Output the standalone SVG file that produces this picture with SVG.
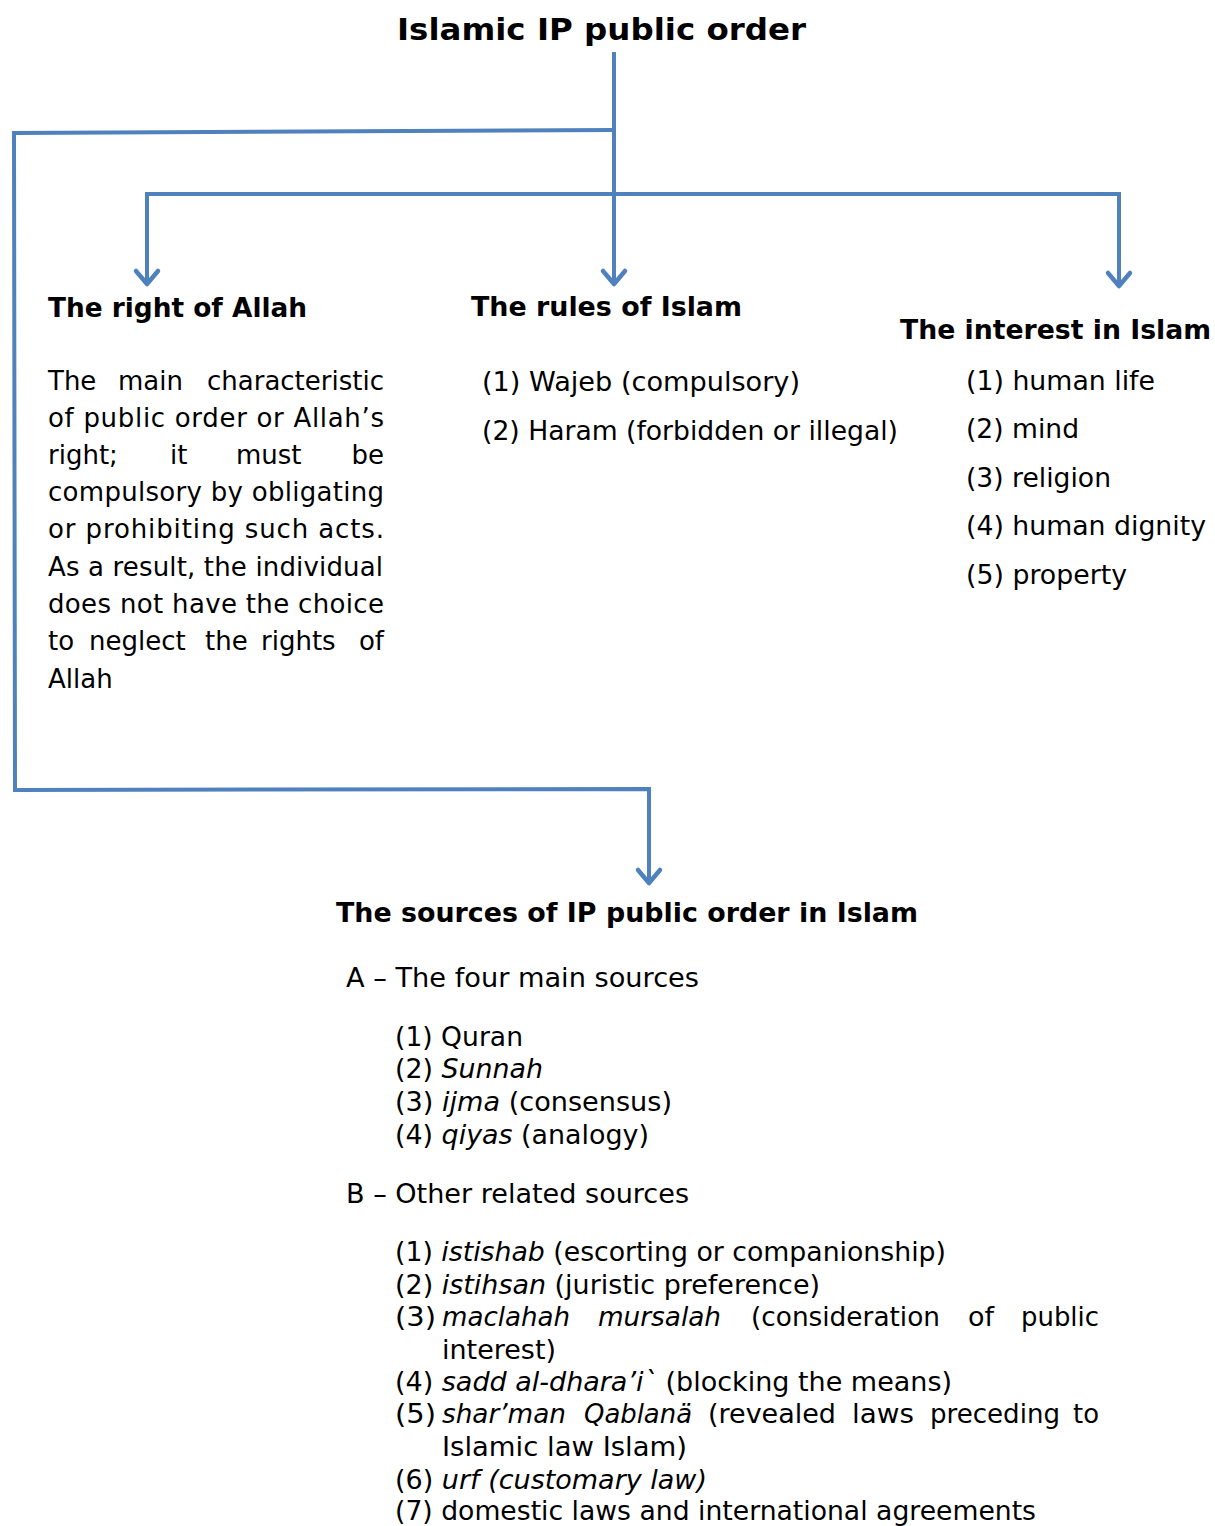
<svg xmlns="http://www.w3.org/2000/svg" width="1215" height="1526" viewBox="0 0 1215 1526">
<style>
text{font-family:"DejaVu Sans","Verdana",sans-serif;font-size:26px;fill:#000}
.b{font-weight:bold}
.i{font-style:italic}
.c{fill:none;stroke:#4F81BD;stroke-width:4;stroke-linejoin:miter}
</style>
<defs>
<marker id="ah" markerUnits="userSpaceOnUse" viewBox="-16 -16 20 32" markerWidth="20" markerHeight="32" refX="0" refY="0" orient="auto" overflow="visible">
<path d="M-13,-11 L0,0 L-13,11" fill="none" stroke="#4F81BD" stroke-width="4.5" stroke-linecap="round" stroke-linejoin="round"/>
</marker>
</defs>
<rect width="1215" height="1526" fill="#fff"/>
<g id="connectors">
<path class="c" d="M614,52 L614,284" marker-end="url(#ah)"/>
<path class="c" d="M614,130 L14,133 L15,790 L649,789 L649,883" marker-end="url(#ah)"/>
<path class="c" d="M614,194 L147,194 L147,284" marker-end="url(#ah)"/>
<path class="c" d="M614,194 L1119,194 L1119,286" marker-end="url(#ah)"/>
</g>
<g id="title"><text class="b" x="397" y="40" textLength="409" lengthAdjust="spacingAndGlyphs" style="font-size:31px">Islamic IP public order</text></g>
<g id="right-of-allah">
<text class="b" x="48" y="317" textLength="259" lengthAdjust="spacingAndGlyphs">The right of Allah</text>
<text x="48" y="390">The</text><text x="118" y="390">main</text><text x="384" y="390" text-anchor="end">characteristic</text>
<text x="48" y="427" textLength="336" lengthAdjust="spacing">of public order or Allah’s</text>
<text x="48" y="464">right;</text><text x="170" y="464">it</text><text x="236" y="464">must</text><text x="384" y="464" text-anchor="end">be</text>
<text x="48" y="501" textLength="336" lengthAdjust="spacing">compulsory by obligating</text>
<text x="48" y="538" textLength="336" lengthAdjust="spacing">or prohibiting such acts.</text>
<text x="48" y="576" textLength="335" lengthAdjust="spacing">As a result, the individual</text>
<text x="48" y="613" textLength="336" lengthAdjust="spacing">does not have the choice</text>
<text x="48" y="650">to</text><text x="89" y="650">neglect</text><text x="205" y="650">the</text><text x="261" y="650">rights</text><text x="384" y="650" text-anchor="end">of</text>
<text x="48" y="688">Allah</text>
</g>
<g id="rules-of-islam">
<text class="b" x="471" y="316" textLength="271" lengthAdjust="spacingAndGlyphs">The rules of Islam</text>
<text x="482" y="391" textLength="318" lengthAdjust="spacingAndGlyphs">(1) Wajeb (compulsory)</text>
<text x="482" y="440" textLength="416" lengthAdjust="spacingAndGlyphs">(2) Haram (forbidden or illegal)</text>
</g>
<g id="interest-in-islam">
<text class="b" x="900" y="339" textLength="311" lengthAdjust="spacingAndGlyphs">The interest in Islam</text>
<text x="966" y="390" textLength="189" lengthAdjust="spacingAndGlyphs">(1) human life</text>
<text x="966" y="438" textLength="113" lengthAdjust="spacingAndGlyphs">(2) mind</text>
<text x="966" y="487" textLength="145" lengthAdjust="spacingAndGlyphs">(3) religion</text>
<text x="966" y="535" textLength="240" lengthAdjust="spacingAndGlyphs">(4) human dignity</text>
<text x="966" y="584" textLength="161" lengthAdjust="spacingAndGlyphs">(5) property</text>
</g>
<g id="sources">
<text class="b" x="336" y="922" textLength="582" lengthAdjust="spacingAndGlyphs">The sources of IP public order in Islam</text>
<text x="346" y="987" textLength="353" lengthAdjust="spacingAndGlyphs">A – The four main sources</text>
<text x="395" y="1046" textLength="128" lengthAdjust="spacingAndGlyphs">(1) Quran</text>
<text x="395" y="1078" textLength="148" lengthAdjust="spacingAndGlyphs">(2) <tspan class="i">Sunnah</tspan></text>
<text x="395" y="1111" textLength="277" lengthAdjust="spacingAndGlyphs">(3) <tspan class="i">ijma</tspan> (consensus)</text>
<text x="395" y="1144" textLength="254" lengthAdjust="spacingAndGlyphs">(4) <tspan class="i">qiyas</tspan> (analogy)</text>
<text x="346" y="1203" textLength="343" lengthAdjust="spacingAndGlyphs">B – Other related sources</text>
<text x="395" y="1261" textLength="551" lengthAdjust="spacingAndGlyphs">(1) <tspan class="i">istishab</tspan> (escorting or companionship)</text>
<text x="395" y="1294" textLength="425" lengthAdjust="spacingAndGlyphs">(2) <tspan class="i">istihsan</tspan> (juristic preference)</text>
<text x="395" y="1326" textLength="41" lengthAdjust="spacingAndGlyphs">(3)</text>
<text class="i" x="442" y="1326" textLength="128" lengthAdjust="spacingAndGlyphs">maclahah</text>
<text class="i" x="598" y="1326" textLength="123" lengthAdjust="spacingAndGlyphs">mursalah</text>
<text x="751" y="1326" textLength="189" lengthAdjust="spacingAndGlyphs">(consideration</text>
<text x="968" y="1326" textLength="26" lengthAdjust="spacingAndGlyphs">of</text>
<text x="1021" y="1326" textLength="78" lengthAdjust="spacingAndGlyphs">public</text>
<text x="442" y="1359" textLength="114" lengthAdjust="spacingAndGlyphs">interest)</text>
<text x="395" y="1391" textLength="557" lengthAdjust="spacingAndGlyphs">(4) <tspan class="i">sadd al-dhara’i`</tspan>  (blocking the means)</text>
<text x="395" y="1423" textLength="41" lengthAdjust="spacingAndGlyphs">(5)</text>
<text class="i" x="442" y="1423" textLength="124" lengthAdjust="spacingAndGlyphs">shar’man</text>
<text class="i" x="584" y="1423" textLength="108" lengthAdjust="spacingAndGlyphs">Qablanä</text>
<text x="708" y="1423" textLength="128" lengthAdjust="spacingAndGlyphs">(revealed</text>
<text x="852" y="1423" textLength="62" lengthAdjust="spacingAndGlyphs">laws</text>
<text x="930" y="1423" textLength="130" lengthAdjust="spacingAndGlyphs">preceding</text>
<text x="1073" y="1423" textLength="26" lengthAdjust="spacingAndGlyphs">to</text>
<text x="442" y="1456" textLength="245" lengthAdjust="spacingAndGlyphs">Islamic law Islam)</text>
<text x="395" y="1489" textLength="312" lengthAdjust="spacingAndGlyphs">(6) <tspan class="i">urf (customary law)</tspan></text>
<text x="395" y="1520" textLength="641" lengthAdjust="spacingAndGlyphs">(7) domestic laws and international agreements</text>
</g>
</svg>
